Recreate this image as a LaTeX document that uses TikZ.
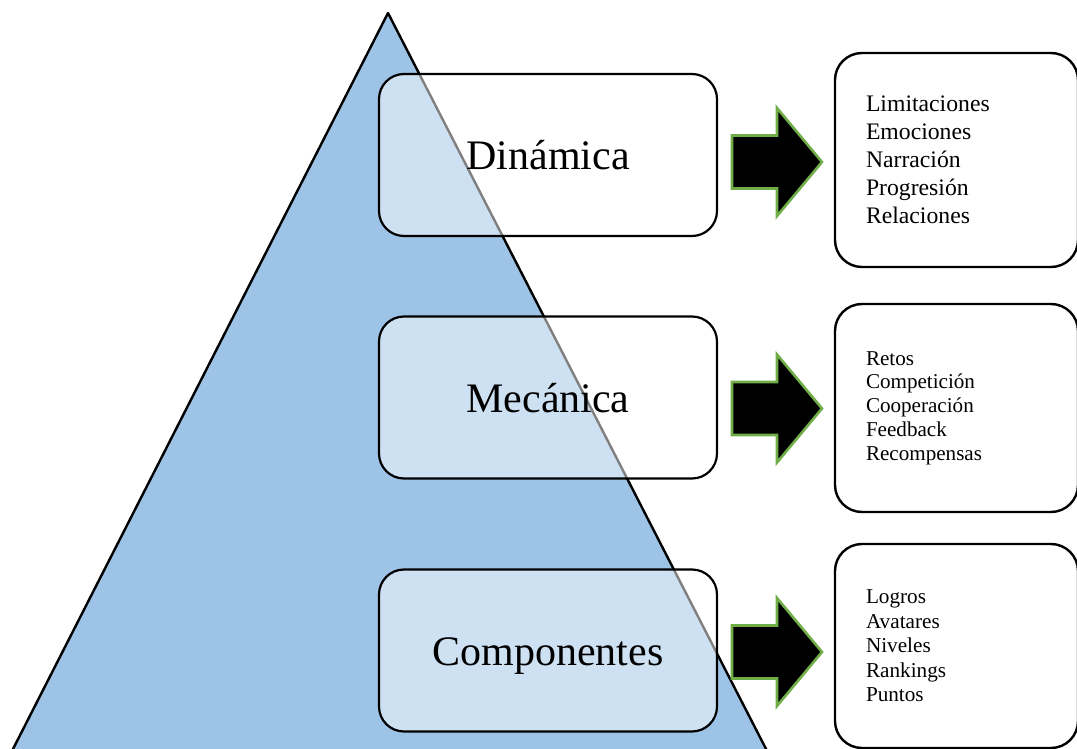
\documentclass[tikz,border=0pt]{standalone}
\usepackage{fontspec}
\setmainfont{Liberation Serif}
\definecolor{pyramid}{RGB}{157,195,230}
\definecolor{arrowedge}{RGB}{112,173,71}
\begin{document}
\begin{tikzpicture}[x=1pt,y=-1pt,
  level/.style={draw=black, line width=2.2pt, rounded corners=25pt,
    fill=white, fill opacity=0.5, text opacity=1,
    minimum width=338pt, minimum height=162pt, inner sep=0pt,
    font=\fontsize{42}{50}\selectfont, text height=29pt, text depth=0pt},
  detail/.style={draw=black, line width=2.4pt, rounded corners=27pt, fill=white,
    minimum width=243pt, text width=181pt, inner xsep=31pt, inner ysep=0pt,
    align=left},
  blockarrow/.style={fill=black, draw=arrowedge, line width=2.6pt, line join=miter},
]
\useasboundingbox (0,0) rectangle (1077,749);
\clip (0,0) rectangle (1077,749);

% pyramid
\draw[fill=pyramid, line width=2.4pt, line join=round]
  (388,13) -- (771.7,760) -- (7.4,760) -- cycle;

% levels of the pyramid
\node[level] (din) at (548,155)   {Dinámica};
\node[level] (mec) at (548,397.5) {Mecánica};
\node[level] (com) at (548,650.5) {Componentes};

% block arrows
\foreach \c in {162,408.5,652}{
  \draw[blockarrow, shift={(0,\c)}]
    (732,-26.5) -- (777,-26.5) -- (777,-54) -- (822,0) -- (777,54)
    -- (777,26.5) -- (732,26.5) -- cycle;
}

% detail boxes
\node[detail, minimum height=214pt, font=\fontsize{23.7}{28}\selectfont]
  (dinlist) at (956.5,160)
  {Limitaciones\\Emociones\\Narración\\Progresión\\Relaciones};
\node[detail, minimum height=208pt, font=\fontsize{21.1}{23.75}\selectfont]
  (meclist) at (956.5,408)
  {Retos\\Competición\\Cooperación\\Feedback\\Recompensas};
\node[detail, minimum height=204pt, font=\fontsize{21.2}{24.5}\selectfont]
  (comlist) at (956.5,646)
  {Logros\\Avatares\\Niveles\\Rankings\\Puntos};
\end{tikzpicture}
\end{document}
